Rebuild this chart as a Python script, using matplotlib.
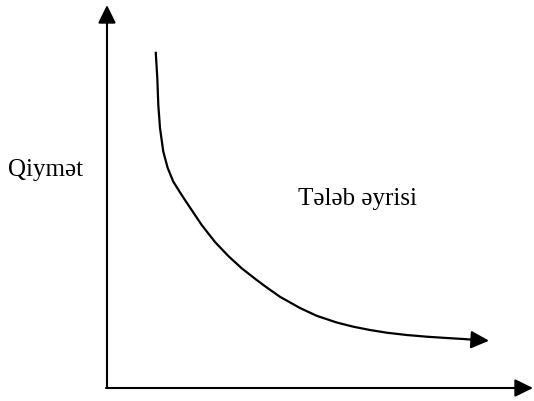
import matplotlib
matplotlib.use("Agg")
import matplotlib.pyplot as plt

# Demand curve (quantity, price)
quantity = [48.7, 50.3, 51.3, 53, 56.3, 60.7, 66.3, 74.7, 81.3, 94.7, 108, 121.3,
            134.7, 149.7, 158, 173, 193, 209.7, 229.7, 246.3, 263, 279.7, 299.7,
            319.7, 339.7, 356.3, 369.7, 382]
price = [336.3, 310, 283, 260, 236.3, 220, 206.3, 193, 183, 163, 146, 132,
         119.7, 108, 101.8, 91.2, 80, 72.2, 65.5, 61.3, 58, 55.3, 53,
         51.3, 50, 49, 48, 47.3]

y_label = "Qiymət"
curve_label = "Tələb əyrisi"

plt.rcParams['font.family'] = ['Liberation Serif', 'DejaVu Serif']

fig = plt.figure(figsize=(5.34, 4.01), dpi=100)
ax = fig.add_axes([0, 0, 1, 1])
ax.set_xlim(-107, 427)
ax.set_ylim(-13, 388)
ax.axis('off')

arrow = dict(arrowstyle='-|>,head_length=11,head_width=5.4', mutation_scale=1,
             lw=1.5, color='black', shrinkA=0, shrinkB=0)

# axes
ax.annotate('', xy=(0, 383), xytext=(0, 0), arrowprops=arrow, annotation_clip=False)
ax.annotate('', xy=(426, 0), xytext=(-1, 0), arrowprops=arrow, annotation_clip=False)

# curve
ax.plot(quantity[:-1], price[:-1], color='black', lw=1.6,
        solid_capstyle='butt', solid_joinstyle='round')
ax.annotate('', xy=(quantity[-1], price[-1]), xytext=(quantity[-2], price[-2]),
            arrowprops=arrow)

ax.text(-99, 212, y_label, fontsize=18, ha='left', va='baseline')
ax.text(191, 183, curve_label, fontsize=18, ha='left', va='baseline')

fig.savefig('out.png', dpi=100)
